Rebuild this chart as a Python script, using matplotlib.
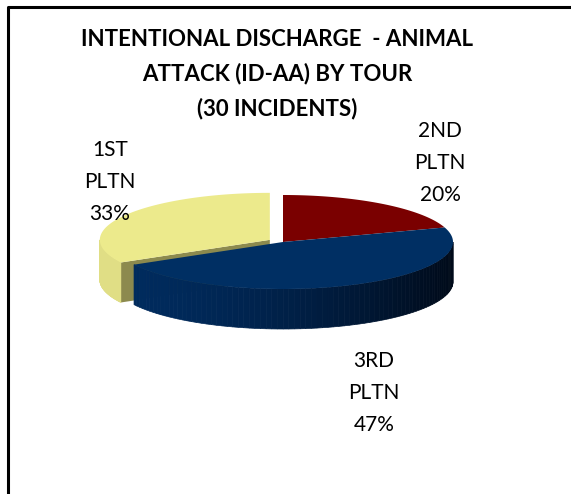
import numpy as np
import matplotlib.pyplot as plt
from matplotlib.patches import Polygon

# data
labels = ['2ND\nPLTN', '3RD\nPLTN', '1ST\nPLTN']
values = [20, 47, 33]
explode = [0, 0, 0.09]
title = 'INTENTIONAL DISCHARGE  - ANIMAL\nATTACK (ID-AA) BY TOUR\n(30 INCIDENTS)'

# styles
top_col = ['#7a0000', '#002f63', '#ecea8c']
side_left = [(0.45, 0.0, 0.0), (0.0, 0.17, 0.37), (0.88, 0.87, 0.52)]
side_right = [(0.25, 0.0, 0.0), (0.0, 0.04, 0.10), (0.80, 0.79, 0.45)]
cut_col = ['#4a0000', '#001a3a', '#8c8a4e']
label_pos = [(440, 163), (374, 393), (110, 182)]

cx, cy = 283, 242     # pie center (pixels)
rx, ry = 170, 47      # ellipse radii
depth = 40

fig = plt.figure(figsize=(5.71, 4.94), dpi=100)
ax = fig.add_axes([0, 0, 1, 1])
ax.set_xlim(0, 571)
ax.set_ylim(494, 0)
ax.axis('off')

# border
ax.plot([8, 8, 575], [500, 7, 7], color='black', lw=2.2, solid_capstyle='butt')

# angles (clockwise from 12 o'clock)
fr = np.array(values) / np.sum(values)
t1 = 90 - np.concatenate([[0], np.cumsum(fr)[:-1]]) * 360
t2 = t1 - fr * 360

def offs(i):
    mid = np.radians((t1[i] + t2[i]) / 2)
    return explode[i] * rx * np.cos(mid), -explode[i] * ry * np.sin(mid)

def rim(ox, oy, a, z=0):
    a = np.radians(a)
    return cx + ox + rx * np.cos(a), cy + oy - ry * np.sin(a) + z

def draw_top(i):
    ox, oy = offs(i)
    a = np.linspace(t1[i], t2[i], 120)
    x, y = rim(ox, oy, a)
    pts = np.vstack([[cx + ox, cy + oy], np.column_stack([x, y])])
    ax.add_patch(Polygon(pts, closed=True, fc=top_col[i], ec='none', zorder=3))

def draw_side(i):
    ox, oy = offs(i)
    lo, hi = min(t1[i], t2[i]), max(t1[i], t2[i])
    # front facing part: angles in (180, 360) mod 360
    for k in range(-2, 2):
        a0 = max(lo, 180 + 360 * k)
        a1 = min(hi, 360 + 360 * k)
        if a1 <= a0:
            continue
        edges = np.linspace(a0, a1, 80)
        for j in range(len(edges) - 1):
            aa = np.linspace(edges[j], edges[j + 1], 3)
            x, y = rim(ox, oy, aa)
            xb, yb = rim(ox, oy, aa[::-1], depth)
            t = np.clip((np.mean(x) - (cx - rx)) / (2 * rx), 0, 1) ** 1.6
            c = tuple(np.array(side_left[i]) * (1 - t) + np.array(side_right[i]) * t)
            pts = np.column_stack([np.concatenate([x, xb]), np.concatenate([y, yb])])
            ax.add_patch(Polygon(pts, closed=True, fc=c, ec=c, lw=0.5, zorder=2))

def draw_cut(i, a):
    ox, oy = offs(i)
    x, y = rim(ox, oy, a)
    pts = [(cx + ox, cy + oy), (x, y), (x, y + depth), (cx + ox, cy + oy + depth)]
    ax.add_patch(Polygon(pts, closed=True, fc=cut_col[i], ec='none', zorder=2))

# paint back to front
draw_top(0)
draw_cut(2, t1[2])
draw_side(2)
draw_top(2)
draw_side(1)
draw_top(1)

# labels
for i in range(len(values)):
    x, y = label_pos[i]
    ax.text(x, y, '%s\n%d%%' % (labels[i], round(fr[i] * 100)), ha='center', va='center',
            fontsize=15, family='Lato', linespacing=1.72, zorder=5)

ax.text(277, 74, title, ha='center', va='center', fontsize=16, family='Lato',
        fontweight='bold', linespacing=1.72)

fig.savefig('out.png', dpi=100)
